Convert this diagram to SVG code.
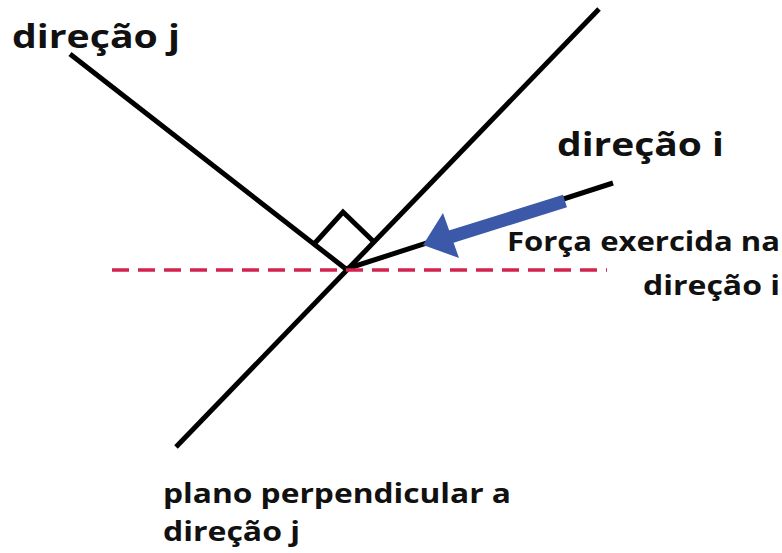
<svg xmlns="http://www.w3.org/2000/svg" width="782" height="553" viewBox="0 0 782 553">
<style>
.ln{stroke:#000;stroke-width:5;fill:none;stroke-linecap:butt}
.t{font-family:"Open Sans","Liberation Sans",sans-serif;font-weight:bold;fill:#111}
</style>
<rect width="782" height="553" fill="#fff"/>
<g id="connectors">
<line id="plane" class="ln" x1="176" y1="447" x2="599" y2="9"/>
<line id="dirj" class="ln" x1="70" y1="54" x2="346" y2="269"/>
<line id="diri" class="ln" x1="346" y1="269" x2="613" y2="183"/>
<polyline id="rightangle" class="ln" points="315,243 343,212 373,241"/>
<line id="dashed" x1="112" y1="270" x2="607" y2="270" stroke="#d2224e" stroke-width="3.5" stroke-dasharray="17,9"/>
<g id="force">
<line x1="565" y1="201" x2="450" y2="237" stroke="#3c58a8" stroke-width="13"/>
<polygon points="423,245 443,213 459,258" fill="#3c58a8"/>
</g>
</g>
<g id="label-dirj"><text class="t" x="12" y="48" font-size="32" textLength="168" lengthAdjust="spacingAndGlyphs">direção j</text></g>
<g id="label-diri"><text class="t" x="557" y="156" font-size="32" textLength="167" lengthAdjust="spacingAndGlyphs">direção i</text></g>
<g id="label-force"><text class="t" x="507" y="251" font-size="26" textLength="273" lengthAdjust="spacingAndGlyphs">Força exercida na</text>
<text class="t" x="643" y="295" font-size="26" textLength="137" lengthAdjust="spacingAndGlyphs">direção i</text></g>
<g id="label-plane"><text class="t" x="163" y="503" font-size="26" textLength="348" lengthAdjust="spacingAndGlyphs">plano perpendicular a</text>
<text class="t" x="163" y="541" font-size="26" textLength="137" lengthAdjust="spacingAndGlyphs">direção j</text></g>
</svg>
